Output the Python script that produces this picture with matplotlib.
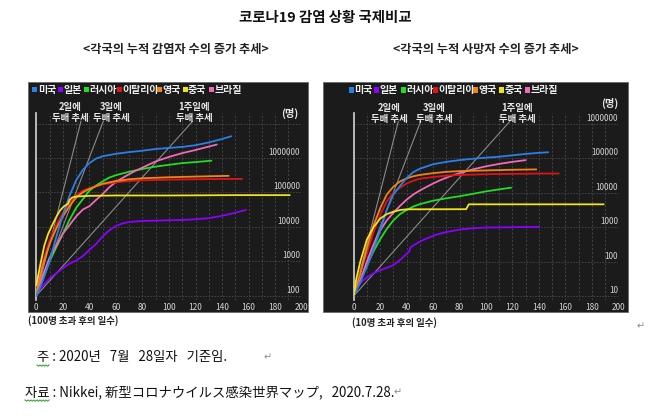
import numpy as np
import matplotlib
matplotlib.use('Agg')
import matplotlib.pyplot as plt
from matplotlib.patches import Rectangle
from matplotlib.lines import Line2D

plt.rcParams['font.family'] = ['Noto Sans CJK KR', 'DejaVu Sans']

# ---------------- data ----------------
countries = ['미국', '일본', '러시아', '이탈리아', '영국', '중국', '브라질']
colors = ['#2a80e6', '#8c00ff', '#22dd22', '#e01414', '#f08418', '#f2e21c', '#f06ab8']

# cumulative cases, x = days since 100th case
us_case_days = [0, 5, 10, 15, 20, 25, 30, 35, 40, 45, 50, 60, 70, 80, 90, 100, 110, 120, 130, 140, 147]
us_cases = [100, 280, 1000, 5000, 22000, 79000, 224000, 447000, 708000, 955000, 1120000, 1320000,
            1480000, 1620000, 1820000, 1950000, 2090000, 2340000, 2820000, 3550000, 4270000]
jp_case_days = [0, 5, 10, 15, 20, 25, 30, 35, 40, 45, 50, 55, 60, 65, 70, 80, 90, 100, 110, 120, 130, 140, 150, 158]
jp_cases = [112, 200, 316, 447, 631, 851, 1050, 1410, 2140, 3160, 5250, 7940, 10500, 12600, 13800,
            14800, 15100, 15500, 15800, 16600, 17800, 20900, 25700, 30900]
ru_case_days = [0, 5, 10, 15, 20, 25, 30, 35, 40, 45, 50, 55, 60, 70, 80, 90, 100, 110, 120, 132]
ru_cases = [100, 316, 1000, 2510, 6310, 15800, 35500, 63100, 112000, 158000, 209000, 269000, 316000,
            398000, 479000, 562000, 631000, 708000, 759000, 832000]
it_case_days = [0, 5, 10, 15, 20, 25, 30, 35, 40, 45, 50, 60, 70, 80, 100, 120, 140, 155]
it_cases = [158, 1000, 3980, 11200, 25100, 50100, 79400, 112000, 132000, 151000, 170000, 195000,
            214000, 224000, 234000, 240000, 245000, 246000]
uk_case_days = [0, 5, 10, 15, 20, 25, 30, 35, 40, 45, 50, 60, 70, 80, 100, 120, 145]
uk_cases = [126, 794, 3160, 8910, 20000, 39800, 70800, 100000, 126000, 151000, 178000, 214000,
            240000, 257000, 275000, 288000, 302000]
cn_case_days = [0, 3, 6, 9, 12, 15, 18, 21, 24, 25, 27, 30, 40, 60, 100, 150, 191]
cn_cases = [200, 794, 2820, 6310, 11200, 19100, 30200, 39800, 46800, 60300, 70800, 75900, 79400,
            81300, 81300, 83200, 83200]
br_case_days = [0, 5, 10, 15, 20, 25, 30, 35, 40, 45, 50, 55, 60, 65, 70, 75, 80, 90, 100, 110, 120, 130, 136]
br_cases = [100, 398, 1260, 2820, 6310, 11200, 20000, 31600, 39800, 60300, 89100, 141000, 200000,
            263000, 339000, 427000, 525000, 794000, 1070000, 1380000, 1700000, 2140000, 2450000]

# cumulative deaths, x = days since 10th death
us_death_days = [0, 5, 10, 15, 20, 25, 30, 35, 40, 45, 50, 60, 70, 80, 90, 100, 110, 120, 130, 140, 147]
us_deaths = [10, 25, 71, 224, 794, 3160, 8910, 15800, 26900, 39800, 50100, 67600, 79400, 89100,
             97700, 105000, 112000, 123000, 135000, 145000, 151000]
jp_death_days = [0, 3, 6, 10, 15, 20, 25, 30, 35, 40, 42, 43, 45, 50, 55, 60, 65, 70, 80, 90, 100, 120, 140]
jp_deaths = [10, 18, 26, 35, 46, 56, 66, 79, 112, 166, 200, 263, 295, 380, 468, 562, 646, 724, 851,
             933, 977, 1000, 1020]
ru_death_days = [0, 5, 10, 15, 20, 25, 30, 35, 40, 45, 50, 60, 70, 80, 90, 100, 110, 119]
ru_deaths = [10, 28, 79, 200, 447, 891, 1580, 2400, 3160, 3980, 4680, 5890, 6920, 7940, 9330, 11000,
             12600, 14100]
it_death_days = [0, 5, 10, 15, 20, 25, 30, 35, 40, 45, 50, 60, 70, 80, 100, 120, 140, 155]
it_deaths = [10, 50, 178, 708, 2240, 5620, 10000, 14100, 18600, 22400, 25700, 28800, 31600, 33100,
             34700, 35500, 36300, 36300]
uk_death_days = [0, 5, 10, 15, 20, 25, 30, 35, 40, 45, 50, 60, 70, 80, 100, 120, 138]
uk_deaths = [10, 45, 251, 1120, 3550, 8910, 15100, 21400, 26300, 30200, 33100, 37200, 40700, 42700,
             44700, 46800, 47900]
cn_death_days = [0, 2, 5, 10, 15, 20, 25, 30, 35, 40, 85, 87, 189]
cn_deaths = [10, 32, 100, 447, 1000, 1780, 2400, 2820, 3160, 3310, 3340, 4630, 4630]
br_death_days = [0, 5, 10, 15, 20, 25, 30, 35, 40, 45, 50, 55, 60, 65, 70, 75, 80, 90, 100, 110, 120, 130]
br_deaths = [10, 28, 100, 316, 794, 1580, 2630, 4170, 6310, 8910, 11700, 14800, 18600, 22900, 27500,
             32400, 37200, 47900, 58900, 69200, 79400, 89100]

case_series = [(us_case_days, us_cases), (jp_case_days, jp_cases), (ru_case_days, ru_cases),
               (it_case_days, it_cases), (uk_case_days, uk_cases), (cn_case_days, cn_cases),
               (br_case_days, br_cases)]
death_series = [(us_death_days, us_deaths), (jp_death_days, jp_deaths), (ru_death_days, ru_deaths),
                (it_death_days, it_deaths), (uk_death_days, uk_deaths), (cn_death_days, cn_deaths),
                (br_death_days, br_deaths)]

x_ticks = [0, 20, 40, 60, 80, 100, 120, 140, 160, 180, 200]
case_ylabels = [100, 1000, 10000, 100000, 1000000]
death_ylabels = [10, 100, 1000, 10000, 100000, 1000000]
doubling_days = [2, 3, 7]
doubling_labels = [('2일에', '두배 추세'), ('3일에', '두배 추세'), ('1주일에', '두배 추세')]

# ---------------- layout ----------------
W, H = 671, 416
fig = plt.figure(figsize=(W / 100, H / 100), dpi=100)
fig.patch.set_facecolor('white')


def fx(x):
    return x / W


def fy(y):
    return 1 - y / H


PANEL = '#1b1b1b'
GRID = '#464646'
LIGHT = '#d4d4d4'

for x0, x1 in [(28, 308), (323, 628)]:
    fig.patches.append(Rectangle((fx(x0), fy(312)), (x1 - x0) / W, (312 - 82) / H,
                                 transform=fig.transFigure, facecolor=PANEL,
                                 edgecolor='#6a6a6a', lw=0.6, zorder=-5))


def make_axes(left_px, right_px, top_px, bottom_px, ylo, yhi):
    ax = fig.add_axes([fx(left_px), fy(bottom_px), (right_px - left_px) / W, (bottom_px - top_px) / H])
    ax.set_zorder(2)
    ax.set_facecolor('none')
    ax.set_yscale('log')
    ax.set_xlim(0, 200)
    ax.set_ylim(ylo, yhi)
    for s in ['top', 'right', 'bottom']:
        ax.spines[s].set_visible(False)
    ax.spines['left'].set_color(LIGHT)
    ax.spines['left'].set_linewidth(1.2)
    ax.set_xticks(x_ticks)
    ax.set_xticklabels([str(t) for t in x_ticks])
    ax.tick_params(axis='x', length=0, pad=2.5, labelsize=6, labelcolor=LIGHT)
    ax.set_yticks([])
    ax.yaxis.set_minor_locator(matplotlib.ticker.NullLocator())
    for d in range(10, 201, 10):
        ax.axvline(d, color=GRID, lw=0.7, ls=(0, (2, 2)), zorder=1)
    return ax


ax1 = make_axes(36.3, 301.7, 113, 300, 10 ** 1.875, 10 ** 7.305)
ax2 = make_axes(353.7, 618.3, 113.3, 300, 10 ** 0.884, 10 ** 6.311)

for ax, ylabels, base, top, xoff in [(ax1, case_ylabels, 100, 10 ** 7, -1.2),
                                     (ax2, death_ylabels, 10, 10 ** 6, 0)]:
    grid_vals = ylabels + ([top] if top not in ylabels else [])
    for v in grid_vals:
        ax.axhline(v, color=GRID, lw=0.7, ls=(0, (1.5, 1.5)), zorder=1)
    for v in ylabels:
        ax.annotate(str(v), xy=(1, v), xycoords=('axes fraction', 'data'),
                    xytext=(xoff, 4), textcoords='offset points', ha='right', va='center',
                    fontsize=5.8, color=LIGHT)
    # doubling reference lines
    for d in doubling_days:
        end_day = d * 5.07 * np.log2(10)
        ax.plot([0, end_day], [base, base * 10 ** 5.07], color='#8a8a8a', lw=0.8, zorder=2)

order = [1, 2, 6, 3, 4, 0, 5]
for ax, series in [(ax1, case_series), (ax2, death_series)]:
    for i in order:
        days, vals = series[i]
        ax.plot(days, vals, color=colors[i], lw=1.3, zorder=3 + order.index(i),
                solid_capstyle='round', solid_joinstyle='round')

# legends
legend_pos = [
    ([32.3, 57.7, 84, 116.7, 156.7, 182.7, 209], 89.5),
    ([349, 374.3, 401, 433.3, 473.3, 499.3, 525], 90),
]
for xs, yc in legend_pos:
    for x, name, c in zip(xs, countries, colors):
        fig.patches.append(Rectangle((fx(x), fy(yc + 2.7)), 5 / W, 5.4 / H,
                                     transform=fig.transFigure, facecolor=c, edgecolor='none', zorder=5))
        fig.text(fx(x + 5.4), fy(yc), name, fontsize=7.2, fontweight='bold', color='#f0f0f0',
                 ha='left', va='center')

# doubling labels
label_pos = [
    [(70, 107.3, 118.3), (111.5, 107.3, 118.3), (194, 107.3, 118.3)],
    [(389, 108.3, 119.3), (434.5, 108.3, 119.3), (517.5, 108.3, 119.3)],
]
for pos in label_pos:
    for (x, y1, y2), (l1, l2) in zip(pos, doubling_labels):
        fig.text(fx(x), fy(y1), l1, fontsize=6.8, fontweight='bold', color='#e6e6e6', ha='center', va='center')
        fig.text(fx(x), fy(y2), l2, fontsize=6.8, fontweight='bold', color='#e6e6e6', ha='center', va='center')

fig.text(fx(289.3), fy(113.3), '(명)', fontsize=7.4, fontweight='bold', color='#e6e6e6', ha='center', va='center')
fig.text(fx(609.3), fy(103.3), '(명)', fontsize=7.4, fontweight='bold', color='#e6e6e6', ha='center', va='center')

# titles
fig.text(fx(325), fy(18), '코로나19 감염 상황 국제비교', fontsize=10.4, fontweight='bold',
         color='#111111', ha='center', va='center')
fig.text(fx(176), fy(50), '<각국의 누적 감염자 수의 증가 추세>', fontsize=8.8, fontweight='bold',
         color='#222222', ha='center', va='center')
fig.text(fx(486), fy(50), '<각국의 누적 사망자 수의 증가 추세>', fontsize=8.8, fontweight='bold',
         color='#222222', ha='center', va='center')

# axis captions
fig.text(fx(28.3), fy(320.7), '(100명 초과 후의 일수)', fontsize=6.8, fontweight='bold',
         color='#222222', ha='left', va='center')
fig.text(fx(351.7), fy(322.7), '(10명 초과 후의 일수)', fontsize=6.8, fontweight='bold',
         color='#222222', ha='left', va='center')

# footnotes
fig.text(fx(37), fy(357), '주 : 2020년   7월   28일자   기준임.', fontsize=9.6, color='#111111',
         ha='left', va='center')
fig.text(fx(25), fy(392), '자료 : Nikkei, 新型コロナウイルス感染世界マップ,   2020.7.28.', fontsize=9.6,
         color='#111111', ha='left', va='center')
for x, y in [(641, 326), (268, 357), (398, 392)]:
    fig.text(fx(x), fy(y), '↵', fontsize=7, color='#8a8a8a', ha='center', va='center',
             family=['DejaVu Sans'])

# spell-check wavy underlines
for x0, x1, y in [(37, 50, 365), (25, 50, 400)]:
    xs = np.arange(x0, x1 + 0.1, 1.5)
    ys = y + np.where(np.arange(len(xs)) % 2 == 0, 0, 1.2)
    fig.add_artist(Line2D(fx(xs), fy(ys), transform=fig.transFigure, color='#3aa63a', lw=0.8))

fig.savefig('out.png', dpi=100, facecolor='white')
